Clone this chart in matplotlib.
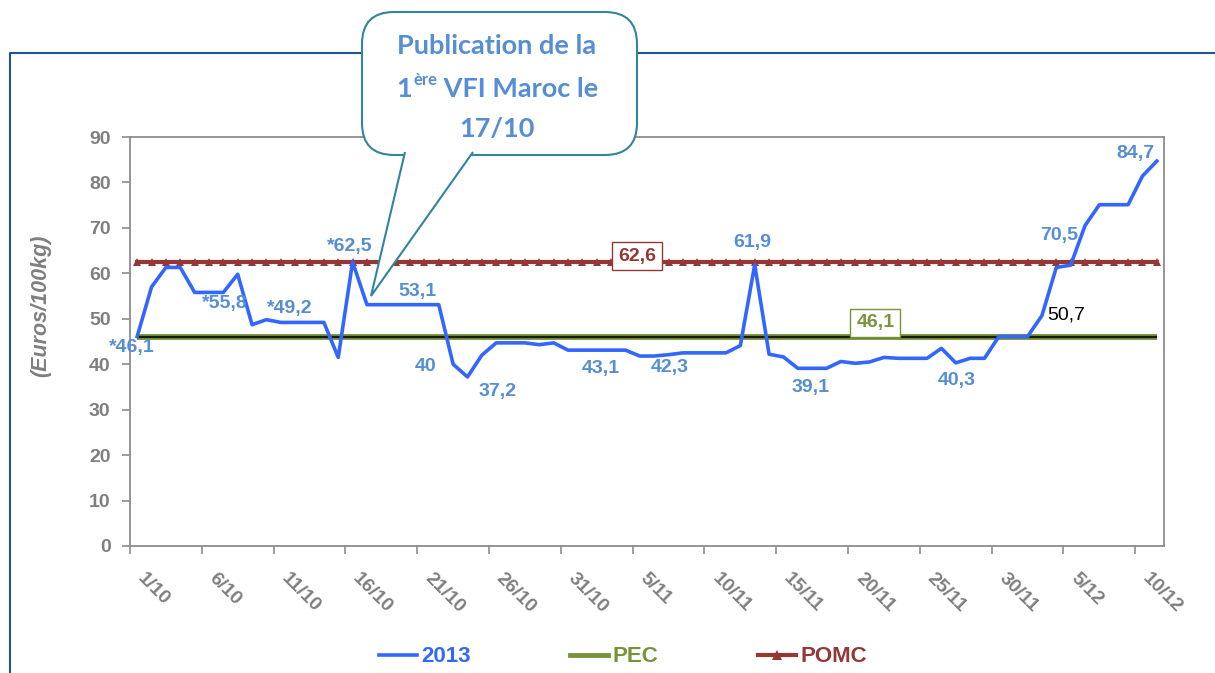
import numpy as np
import matplotlib
matplotlib.use('Agg')
import matplotlib.pyplot as plt
from matplotlib.patches import FancyBboxPatch, PathPatch
from matplotlib.path import Path
from matplotlib.lines import Line2D
from matplotlib.transforms import ScaledTranslation

# ---------------- data ----------------
prices_2013 = [46.1, 57.0, 61.3, 61.3, 55.8, 55.8, 55.8, 59.8, 48.7, 49.8,
               49.2, 49.2, 49.2, 49.2, 41.5, 62.5, 53.1, 53.1, 53.1, 53.1,
               53.1, 53.1, 40.0, 37.2, 42.0, 44.7, 44.7, 44.7, 44.3, 44.7,
               43.1, 43.1, 43.1, 43.1, 43.1, 41.8, 41.8, 42.1, 42.5, 42.5,
               42.5, 42.5, 44.1, 61.9, 42.2, 41.6, 39.1, 39.1, 39.1, 40.6,
               40.2, 40.5, 41.5, 41.3, 41.3, 41.3, 43.5, 40.3, 41.3, 41.3,
               46.1, 46.1, 46.1, 50.7, 61.3, 61.8, 70.5, 75.1, 75.1, 75.1,
               81.4, 84.7]
pec_value = 46.1
pomc_value = 62.6
tick_labels = ['1/10', '6/10', '11/10', '16/10', '21/10', '26/10', '31/10',
               '5/11', '10/11', '15/11', '20/11', '25/11', '30/11', '5/12', '10/12']
tick_step = 5
y_ticks = list(range(0, 100, 10))

# value labels written on the chart
point_texts = ['*46,1', '*55,8', '*49,2', '*62,5', '53,1', '40', '37,2', '43,1',
               '42,3', '61,9', '39,1', '40,3', '70,5', '84,7']
point_text_pos = [(-0.4, 43.6), (6.1, 53.3), (10.6, 52.2), (14.8, 66.0),
                  (19.5, 56.1), (20.1, 39.6), (25.1, 33.9), (32.3, 39.0),
                  (37.1, 39.2), (42.8, 66.7), (46.9, 34.8), (57.1, 36.5),
                  (64.2, 68.4), (69.5, 86.3)]
black_text = '50,7'
black_text_pos = (64.7, 50.8)

# ---------------- style ----------------
plt.rcParams['font.family'] = ['Liberation Sans', 'DejaVu Sans']
BLUE = '#3366FF'
LBL_BLUE = '#558ED5'
GREEN = '#77933C'
RED = '#953735'
GRAY = '#7F7F7F'

W, H = 1215, 673
fig = plt.figure(figsize=(W / 100, H / 100), dpi=100)
fig.patch.set_facecolor('white')


def fx(px):
    return px / W


def fy(py):
    return 1 - py / H


ax = fig.add_axes([fx(130), fy(546), fx(1164) - fx(130), fy(137) - fy(546)])
n = len(prices_2013)
x = np.arange(n)
ax.set_xlim(-0.5, n - 0.5)
ax.set_ylim(0, 90)

# series
ax.plot(x, [pomc_value] * n, color=RED, lw=3, marker='^', ms=6,
        markeredgewidth=0, zorder=3)
ax.plot(x, [pec_value] * n, color=GREEN, lw=4.2, zorder=3, solid_capstyle='butt')
ax.plot(x, [pec_value] * n, color='#1A1A0A', lw=1.6, zorder=3.1, solid_capstyle='butt')
ax.plot(x, prices_2013, color=BLUE, lw=2.6, zorder=4)

# axes styling
for s in ax.spines.values():
    s.set_color('#8C8C8C')
    s.set_linewidth(1.3)
ax.set_yticks(y_ticks)
ax.tick_params(axis='y', direction='out', length=6, width=1.2, color='#8C8C8C',
               labelsize=14, labelcolor=GRAY, pad=8)
for lbl in ax.get_yticklabels():
    lbl.set_fontweight('bold')

tick_pos = np.arange(0, n, tick_step)[:len(tick_labels)] - 0.5
ax.set_xticks(tick_pos)
ax.set_xticklabels(tick_labels, rotation=-45, ha='left', va='top',
                   fontsize=14, fontweight='bold', color=GRAY)
ax.tick_params(axis='x', direction='out', length=6, width=1.2, color='#8C8C8C', pad=11)
for lbl in ax.get_xticklabels():
    lbl.set_transform(lbl.get_transform() + ScaledTranslation(4 / 100, 0, fig.dpi_scale_trans))

ax.set_ylabel('(Euros/100kg)', fontsize=15.5, fontweight='bold', fontstyle='italic',
              color=GRAY)
ax.yaxis.set_label_coords(-(130 - 51) / (1164 - 130), (546 - 306) / (546 - 137))

# value labels
for t, (px_, py_) in zip(point_texts, point_text_pos):
    ax.text(px_, py_, t, color=LBL_BLUE, fontsize=14, fontweight='bold',
            ha='center', va='center', zorder=6)
ax.text(black_text_pos[0], black_text_pos[1], black_text, color='black', fontsize=14,
        ha='center', va='center', zorder=6)
ax.text(34.8, 63.8, '62,6', color=RED, fontsize=14, fontweight='bold', ha='center',
        va='center', zorder=6,
        bbox=dict(boxstyle='square,pad=0.3', fc='white', ec=RED, lw=1))
ax.text(51.4, 49.1, '46,1', color=GREEN, fontsize=14, fontweight='bold', ha='center',
        va='center', zorder=6,
        bbox=dict(boxstyle='square,pad=0.3', fc='white', ec=GREEN, lw=1))

# legend
handles = [Line2D([], [], color=BLUE, lw=2.6),
           Line2D([], [], color=GREEN, lw=3.5),
           Line2D([], [], color=RED, lw=3, marker='^', ms=7, markeredgewidth=0)]
leg = fig.legend(handles, ['2013', 'PEC', 'POMC'], loc='center',
                 bbox_to_anchor=(fx(623), fy(657)), ncol=3, frameon=False,
                 prop=dict(size=16, weight='bold'), handlelength=1.7,
                 handletextpad=0.2, columnspacing=4.5, labelcolor='linecolor')

# overlay: frame and callout
ov = fig.add_axes([0, 0, 1, 1], zorder=5)
ov.set_xlim(0, W)
ov.set_ylim(H, 0)
ov.axis('off')
ov.patch.set_alpha(0)
FRAME = '#24548A'
ov.plot([10, 10, W], [H, 53, 53], color=FRAME, lw=1.5, zorder=1)

CALL_EDGE = '#31859C'
CALL_FILL = '#FFFFFF'
box = FancyBboxPatch((362 + 30, 12 + 30), 275 - 60, 143 - 60,
                     boxstyle='round,pad=30,rounding_size=32',
                     fc=CALL_FILL, ec=CALL_EDGE, lw=1.5, zorder=3)
ov.add_patch(box)
tail = Path([(405, 152), (371, 296), (473, 152)],
            [Path.MOVETO, Path.LINETO, Path.LINETO])
ov.add_patch(PathPatch(tail, fc=CALL_FILL, ec=CALL_EDGE, lw=1.5, zorder=4))

cfont = dict(family=['Lato', 'DejaVu Sans'], weight='bold', color=LBL_BLUE)
cx = 497
FS = 19.5
ov.text(cx, 46, 'Publication de la', fontsize=FS, ha='center', va='center', zorder=6, **cfont)
ov.text(cx, 129, '17/10', fontsize=FS, ha='center', va='center', zorder=6, **cfont)

renderer = fig.canvas.get_renderer()
t1 = ov.text(0, 0, '1', fontsize=FS, ha='left', va='baseline', zorder=6, **cfont)
t2 = ov.text(0, 0, 'ère', fontsize=12, ha='left', va='baseline', zorder=6, **cfont)
t3 = ov.text(0, 0, ' VFI Maroc le', fontsize=FS, ha='left', va='baseline', zorder=6, **cfont)
w1 = t1.get_window_extent(renderer).width
w2 = t2.get_window_extent(renderer).width
w3 = t3.get_window_extent(renderer).width
start = cx - (w1 + w2 + w3) / 2
base = 97
t1.set_position((start, base))
t2.set_position((start + w1 + 1, base - 12))
t3.set_position((start + w1 + w2 + 1, base))

fig.savefig('out.png', dpi=100, facecolor='white')
